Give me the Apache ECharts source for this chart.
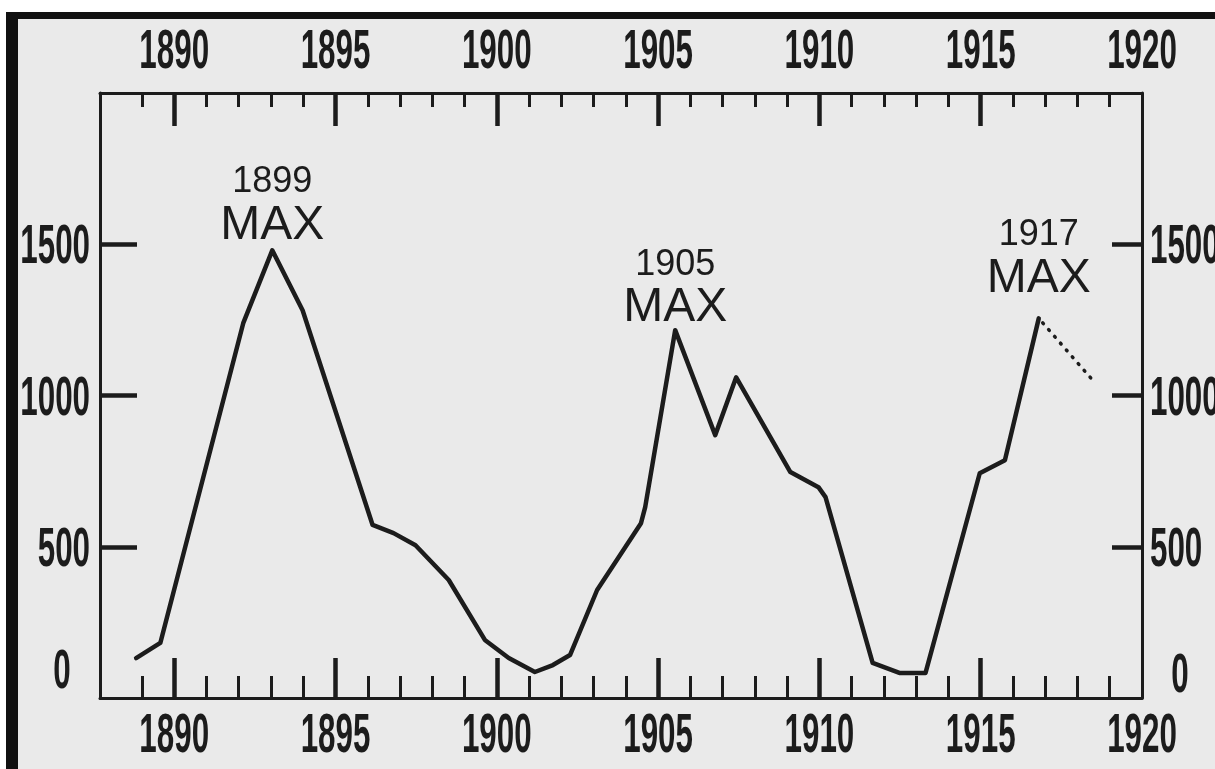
<!DOCTYPE html>
<html>
<head>
<meta charset="utf-8">
<script src="https://cdn.jsdelivr.net/npm/echarts@6/dist/echarts.min.js"></script>
<style>
  html, body { margin: 0; padding: 0; background: #ffffff; }
  #chart { width: 1215px; height: 769px; }
</style>
</head>
<body>
<div id="chart"></div>
<script>
// ---- data ----
const years = [1888.82, 1889.57, 1892.14, 1893.04, 1893.98, 1896.15, 1896.80, 1897.48, 1898.51, 1899.63,
               1900.37, 1901.18, 1901.74, 1902.27, 1903.11, 1904.47, 1904.60, 1905.53, 1906.77, 1907.42,
               1909.10, 1909.97, 1910.19, 1911.65, 1912.48, 1913.29, 1914.97, 1915.75, 1916.80];
const values = [132, 182, 1239, 1480, 1282, 572, 545, 505, 390, 192,
                132, 86, 109, 142, 357, 578, 631, 1216, 869, 1060,
                747, 697, 664, 116, 83, 83, 743, 786, 1255];
const projYears = [1916.80, 1918.42];
const projValues = [1255, 1057];
const maxLabels = ['1899', '1905', '1917'];
const maxYears = [1893.04, 1905.53, 1916.80];
const maxValues = [1480, 1216, 1255];
const minorTickYears = [1889, 1890, 1891, 1892, 1893, 1894, 1895, 1896, 1897, 1898, 1899, 1900, 1901, 1902,
                        1903, 1904, 1905, 1906, 1907, 1908, 1909, 1910, 1911, 1912, 1913, 1914, 1915, 1916,
                        1917, 1918, 1919];
const majorTickYears = [1890, 1895, 1900, 1905, 1910, 1915];
const xLabelYears = [1890, 1895, 1900, 1905, 1910, 1915, 1920];
const yTickValues = [500, 1000, 1500];
const yLabelValues = [0, 500, 1000, 1500];

// ---- chart ----
const INK = '#1c1c1c';
const LABEL_FONT = '"Liberation Sans", Arimo, sans-serif';
const labelDist = [4, 1, 19];

const chart = echarts.init(document.getElementById('chart'), null, { renderer: 'canvas' });

function xAxisBase(pos) {
  return {
    type: 'value', gridIndex: 0, position: pos, min: 1887.7, max: 1920,
    splitLine: { show: false }, axisLabel: { show: false }
  };
}

chart.setOption({
  backgroundColor: '#eaeaea',
  animation: false,
  grid: { left: 100, right: 73, top: 93, bottom: 71, containLabel: false, outerBoundsMode: 'none' },
  xAxis: [
    Object.assign(xAxisBase('bottom'), {
      axisLine: { show: true, lineStyle: { color: INK, width: 3 } },
      axisTick: { show: true, inside: true, length: 22, customValues: minorTickYears, lineStyle: { color: INK, width: 3 } }
    }),
    Object.assign(xAxisBase('bottom'), {
      axisLine: { show: false },
      axisTick: { show: true, inside: true, length: 40, customValues: majorTickYears, lineStyle: { color: INK, width: 4.5 } }
    }),
    Object.assign(xAxisBase('top'), {
      axisLine: { show: true, lineStyle: { color: INK, width: 3 } },
      axisTick: { show: true, inside: true, length: 14, customValues: minorTickYears, lineStyle: { color: INK, width: 3 } }
    }),
    Object.assign(xAxisBase('top'), {
      axisLine: { show: false },
      axisTick: { show: true, inside: true, length: 33, customValues: majorTickYears, lineStyle: { color: INK, width: 4.5 } }
    })
  ],
  yAxis: [
    {
      type: 'value', position: 'left', min: 0, max: 2000,
      splitLine: { show: false }, axisLabel: { show: false },
      axisLine: { show: true, lineStyle: { color: INK, width: 3 } },
      axisTick: { show: true, inside: true, length: 37, customValues: yTickValues, lineStyle: { color: INK, width: 4.5 } }
    },
    {
      type: 'value', position: 'right', min: 0, max: 2000,
      splitLine: { show: false }, axisLabel: { show: false },
      axisLine: { show: true, lineStyle: { color: INK, width: 3 } },
      axisTick: { show: true, inside: true, length: 30, customValues: yTickValues, lineStyle: { color: INK, width: 4.5 } }
    }
  ],
  series: [
    {
      type: 'line', xAxisIndex: 0, yAxisIndex: 0, symbol: 'none', z: 5,
      data: years.map((y, i) => [y, values[i]]),
      lineStyle: { color: INK, width: 4.5, join: 'round', cap: 'round' }
    },
    {
      type: 'line', xAxisIndex: 0, yAxisIndex: 0, symbol: 'none', z: 5,
      data: projYears.map((y, i) => [y, projValues[i]]),
      lineStyle: { color: INK, width: 3.5, type: [1, 8], cap: 'round', dashOffset: -6 }
    },
    {
      type: 'scatter', xAxisIndex: 0, yAxisIndex: 0, symbolSize: 0, z: 6,
      itemStyle: { opacity: 1 },
      data: maxYears.map((y, i) => ({
        value: [y, maxValues[i]],
        name: maxLabels[i],
        label: { distance: labelDist[i] }
      })),
      label: {
        show: true, position: 'top', color: INK, opacity: 1,
        formatter: p => '{y|' + p.name + '}\n{m|MAX}',
        rich: {
          y: { fontFamily: LABEL_FONT, fontSize: 36, color: INK, lineHeight: 44 },
          m: { fontFamily: LABEL_FONT, fontSize: 48, color: INK, lineHeight: 42 }
        }
      }
    }
  ],
  graphic: [
    { type: 'rect', shape: { x: 0, y: 0, width: 1215, height: 12 }, style: { fill: '#ffffff' }, silent: true },
    { type: 'rect', shape: { x: 0, y: 0, width: 6, height: 769 }, style: { fill: '#ffffff' }, silent: true },
    { type: 'rect', shape: { x: 6, y: 12, width: 1209, height: 7 }, style: { fill: '#111111' }, silent: true },
    { type: 'rect', shape: { x: 6, y: 12, width: 12, height: 757 }, style: { fill: '#111111' }, silent: true }
  ]
});

// ---- tick labels: condensed hand-lettering look, placed through the axes' own scales ----
const LBL_SIZE = 55, LBL_SCALE = 0.57;
function lbl(text, x, y, align, vAlign) {
  return {
    type: 'text', x: x, y: y, scaleX: LBL_SCALE, silent: true, z: 10,
    style: { text: text, font: 'bold ' + LBL_SIZE + 'px ' + LABEL_FONT, fill: INK, align: align, verticalAlign: vAlign }
  };
}
const yBottom = chart.convertToPixel({ yAxisIndex: 0 }, 0);
const yTop = chart.convertToPixel({ yAxisIndex: 0 }, 2000);
const xLeft = chart.convertToPixel({ xAxisIndex: 0 }, 1887.7);
const xRight = chart.convertToPixel({ xAxisIndex: 0 }, 1920);
const labels = [];
xLabelYears.forEach(v => {
  const px = chart.convertToPixel({ xAxisIndex: 0 }, v);
  labels.push(lbl(String(v), px, yBottom + 39, 'center', 'middle'));
  labels.push(lbl(String(v), px, yTop - 40, 'center', 'middle'));
});
yLabelValues.forEach(v => {
  const py = chart.convertToPixel({ yAxisIndex: 0 }, v);
  if (v === 0) {
    labels.push(lbl('0', xLeft - 38, py - 25, 'center', 'middle'));
    labels.push(lbl('0', xRight + 38, py - 21, 'center', 'middle'));
  } else {
    labels.push(lbl(String(v), xLeft - 10, py + 4, 'right', 'middle'));
    labels.push(lbl(String(v), xRight + 8, py + 4, 'left', 'middle'));
  }
});
chart.setOption({ graphic: labels.map((g, i) => Object.assign({ id: 'tl' + i }, g)) });
</script>
</body>
</html>
